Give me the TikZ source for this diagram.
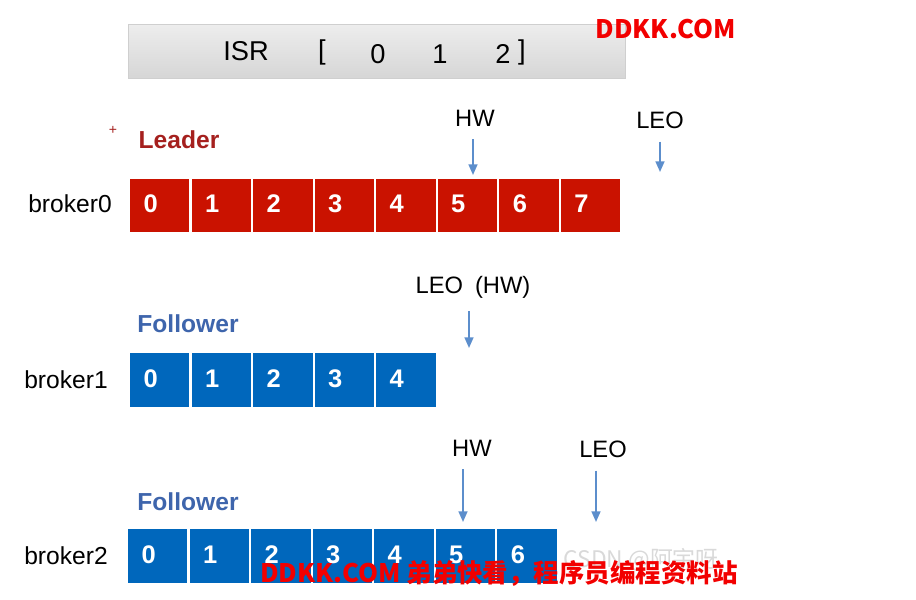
\documentclass[tikz,border=0pt]{standalone}
\usepackage{fontspec}
\setmainfont{Liberation Sans}
\newfontfamily\cjk{Noto Sans CJK SC}
\usetikzlibrary{positioning,arrows.meta}

\definecolor{cellred}{RGB}{202,18,0}
\definecolor{leadred}{RGB}{165,32,30}
\definecolor{cellblue}{RGB}{0,103,188}
\definecolor{follblue}{RGB}{62,101,172}
\definecolor{ptrblue}{RGB}{92,142,204}
\definecolor{wmred}{RGB}{242,0,0}

\begin{document}
\begin{tikzpicture}[
  x=0.02cm, y=-0.02cm,
  >={Triangle[length=6pt,width=5pt]},
  cell/.style={draw=white, line width=0.6pt, minimum width=1.21cm,
               minimum height=1.1cm, text width=0.65cm, align=left,
               inner xsep=0.28cm, text=white, text height=10pt, text depth=2pt,
               font=\fontsize{14.5}{16}\selectfont\bfseries},
  lcell/.style={cell, fill=cellred},
  fcell/.style={cell, fill=cellblue},
  lbl/.style={font=\fontsize{14}{16}\selectfont},
  ptr/.style={font=\fontsize{13.5}{16}\selectfont},
  role/.style={font=\fontsize{14}{16}\selectfont\bfseries},
  isrtxt/.style={font=\fontsize{15.5}{18}\selectfont},
  parr/.style={->, line width=1pt, ptrblue, shorten <=4pt},
  wm/.style={font=\cjk\bfseries\fontsize{14.5}{17}\selectfont, wmred}
]
\useasboundingbox (0,0) rectangle (916,599);

%% ISR bar (top)
\shade[top color=gray!14, bottom color=gray!32, draw=gray!38] (128,24) rectangle (625,78);
\node[isrtxt] (isr) at (246,51) {ISR};
\node[isrtxt] (lbr) at (322,52) {[};
\node[isrtxt] (r0)  at (378,54) {0};
\node[isrtxt] (r1)  at (440,54) {1};
\node[isrtxt] (r2)  at (503,54) {2};
\node[isrtxt] (rbr) at (522,52) {]};

%% Leader (broker0)
\node[font=\fontsize{8}{8}\selectfont, leadred] (plus) at (113,130) {+};
\node[role, leadred] (leader) at (179,140) {Leader};
\node[lbl] (b0) at (70,204) {broker0};
\node[lcell, anchor=west] (l0) at (129,205.5) {0};
\node[lcell, right=0pt of l0] (l1) {1};
\node[lcell, right=0pt of l1] (l2) {2};
\node[lcell, right=0pt of l2] (l3) {3};
\node[lcell, right=0pt of l3] (l4) {4};
\node[lcell, right=0pt of l4] (l5) {5};
\node[lcell, right=0pt of l5] (l6) {6};
\node[lcell, right=0pt of l6] (l7) {7};

\node[ptr] (hw0)  at (475,118) {HW};
\node[ptr] (leo0) at (660,120) {LEO};
\coordinate (hw0tip)  at (473,175);
\coordinate (leo0tip) at (660,172);
\draw[parr] (hw0.south -| hw0tip) -- (hw0tip);
\draw[parr] (leo0.south -| leo0tip) -- (leo0tip);

%% Follower (broker1)
\node[role, follblue] (foll1) at (188,324) {Follower};
\node[lbl] (b1) at (66,380) {broker1};
\node[fcell, anchor=west] (fa0) at (129,380) {0};
\node[fcell, right=0pt of fa0] (fa1) {1};
\node[fcell, right=0pt of fa1] (fa2) {2};
\node[fcell, right=0pt of fa2] (fa3) {3};
\node[fcell, right=0pt of fa3] (fa4) {4};

\node[ptr] (leo1) at (473,287) {LEO\hspace{0.5em}(HW)};
\coordinate (leo1tip) at (469,348);
\draw[parr] (leo1.south -| leo1tip) -- (leo1tip);

%% Follower (broker2)
\node[role, follblue] (foll2) at (188,502) {Follower};
\node[lbl] (b2) at (66,556) {broker2};
\node[fcell, anchor=west, minimum width=1.198cm] (fb0) at (127,556) {0};
\node[fcell, right=0pt of fb0, minimum width=1.198cm] (fb1) {1};
\node[fcell, right=0pt of fb1, minimum width=1.198cm] (fb2) {2};
\node[fcell, right=0pt of fb2, minimum width=1.198cm] (fb3) {3};
\node[fcell, right=0pt of fb3, minimum width=1.198cm] (fb4) {4};
\node[fcell, right=0pt of fb4, minimum width=1.198cm] (fb5) {5};
\node[fcell, right=0pt of fb5, minimum width=1.198cm] (fb6) {6};

\node[ptr] (hw2)  at (472,448) {HW};
\node[ptr] (leo2) at (603,449) {LEO};
\coordinate (hw2tip)  at (463,522);
\coordinate (leo2tip) at (596,522);
\draw[parr] (hw2.south -| hw2tip) -- (hw2tip);
\draw[parr] (leo2.south -| leo2tip) -- (leo2tip);

%% Watermarks
\node[font=\cjk\fontsize{13}{15}\selectfont, gray!30] (csdn) at (641,560) {CSDN @阿宇呀};
\node[wm] (wmtop) at (666,29) {DDKK.COM};
\node[wm] (wmbot) at (499,573) {DDKK.COM 弟弟快看，程序员编程资料站};

\end{tikzpicture}
\end{document}
